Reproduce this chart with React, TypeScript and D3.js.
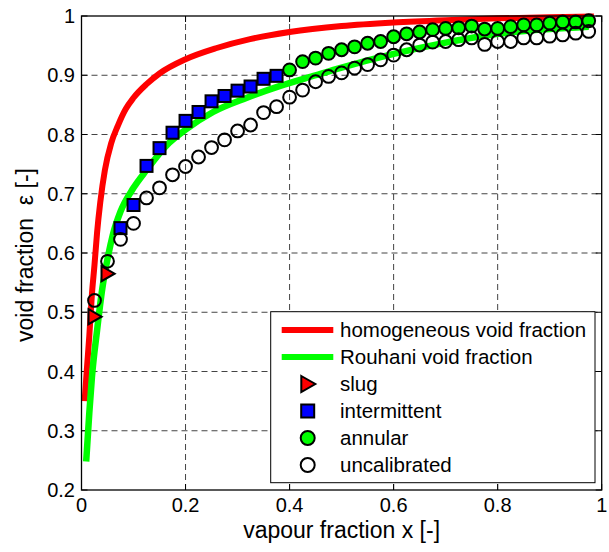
import React from "react";
import * as d3 from "d3";

// ---- data ----
const xTicks = [0, 0.2, 0.4, 0.6, 0.8, 1];
const yTicks = [0.2, 0.3, 0.4, 0.5, 0.6, 0.7, 0.8, 0.9, 1];
const xTickLabels = ["0", "0.2", "0.4", "0.6", "0.8", "1"];
const yTickLabels = ["0.2", "0.3", "0.4", "0.5", "0.6", "0.7", "0.8", "0.9", "1"];

const homogeneousX = [0.006, 0.01, 0.015, 0.02, 0.025, 0.03, 0.036, 0.045, 0.057, 0.07, 0.085, 0.1, 0.125, 0.15, 0.2, 0.26, 0.324, 0.4, 0.5, 0.6, 0.7, 0.8, 0.9, 0.985];
const homogeneousY = [0.35, 0.4, 0.46, 0.53, 0.58, 0.635, 0.685, 0.74, 0.785, 0.815, 0.843, 0.862, 0.885, 0.903, 0.927, 0.946, 0.961, 0.973, 0.983, 0.989, 0.993, 0.996, 0.998, 0.999];

const rouhaniX = [0.009, 0.015, 0.02, 0.03, 0.04, 0.05, 0.06, 0.075, 0.1, 0.125, 0.164, 0.2, 0.253, 0.318, 0.382, 0.45, 0.5, 0.6, 0.7, 0.8, 0.9, 0.975];
const rouhaniY = [0.248, 0.33, 0.39, 0.47, 0.54, 0.59, 0.63, 0.67, 0.71, 0.74, 0.782, 0.808, 0.838, 0.862, 0.882, 0.9, 0.913, 0.936, 0.955, 0.97, 0.978, 0.982];

const slugX = [0.025, 0.05];
const slugY = [0.4925, 0.565];

const intermittentX = [0.075, 0.1, 0.125, 0.15, 0.175, 0.2, 0.225, 0.25, 0.275, 0.3, 0.325, 0.35, 0.375];
const intermittentY = [0.642, 0.681, 0.747, 0.777, 0.803, 0.823, 0.838, 0.856, 0.865, 0.874, 0.881, 0.894, 0.899];

const annularX = [0.4, 0.425, 0.45, 0.475, 0.5, 0.525, 0.55, 0.575, 0.6, 0.625, 0.65, 0.675, 0.7, 0.725, 0.75, 0.775, 0.8, 0.825, 0.85, 0.875, 0.9, 0.925, 0.95, 0.975];
const annularY = [0.909, 0.923, 0.929, 0.937, 0.943, 0.948, 0.954, 0.957, 0.965, 0.97, 0.973, 0.977, 0.979, 0.98, 0.983, 0.978, 0.979, 0.982, 0.985, 0.985, 0.988, 0.99, 0.99, 0.992];

const uncalX = [0.025, 0.05, 0.075, 0.1, 0.125, 0.15, 0.175, 0.2, 0.225, 0.25, 0.275, 0.3, 0.325, 0.35, 0.375, 0.4, 0.425, 0.45, 0.475, 0.5, 0.525, 0.55, 0.575, 0.6, 0.625, 0.65, 0.675, 0.7, 0.725, 0.75, 0.775, 0.8, 0.825, 0.85, 0.875, 0.9, 0.925, 0.95, 0.975];
const uncalY = [0.52, 0.586, 0.623, 0.65, 0.693, 0.71, 0.732, 0.746, 0.762, 0.778, 0.791, 0.806, 0.816, 0.837, 0.847, 0.863, 0.875, 0.889, 0.898, 0.904, 0.912, 0.918, 0.926, 0.934, 0.943, 0.951, 0.956, 0.957, 0.96, 0.963, 0.952, 0.957, 0.957, 0.963, 0.963, 0.966, 0.968, 0.971, 0.974];

const legendLabels = ["homogeneous void fraction", "Rouhani void fraction", "slug", "intermittent", "annular", "uncalibrated"];

const FONT = "'Liberation Sans', Arial, Helvetica, sans-serif";

const zip = (xs: number[], ys: number[]) => xs.map((x, i) => [x, ys[i]] as [number, number]);

const triPath = (cx: number, cy: number, s: number) =>
  `M${cx - 0.8 * s},${cy - s}L${cx + 0.95 * s},${cy}L${cx - 0.8 * s},${cy + s}Z`;

export default function App() {
  const W = 609, H = 552;
  const L = 81.5, R = 601.7, T = 16, B = 490;
  const x = d3.scaleLinear().domain([0, 1]).range([L, R]);
  const y = d3.scaleLinear().domain([0.2, 1]).range([B, T]);
  const line = d3.line<[number, number]>().x(d => x(d[0])).y(d => y(d[1])).curve(d3.curveMonotoneX);

  const legX = 270.7, legY = 311.7, legW = 324.3, legH = 171;
  const rowY = (i: number) => 330 + i * 27;
  const mX = 307.7;
  const SQ = 12, CR = 6.4;

  return (
    <svg width={W} height={H} style={{ position: "absolute", left: 0, top: 0, background: "#fff" }} fontFamily={FONT}>
      <rect x={0} y={0} width={W} height={H} fill="#fff" />
      {/* grid */}
      <g stroke="#444" strokeWidth={1} strokeDasharray="6,4">
        {xTicks.slice(1, -1).map(t => (
          <line key={"gx" + t} x1={x(t)} x2={x(t)} y1={B} y2={T} />
        ))}
        {yTicks.slice(1, -1).map(t => (
          <line key={"gy" + t} x1={L} x2={R} y1={y(t)} y2={y(t)} />
        ))}
      </g>
      {/* ticks inside */}
      <g stroke="#000" strokeWidth={1}>
        {xTicks.map(t => (
          <g key={"tx" + t}>
            <line x1={x(t)} x2={x(t)} y1={B} y2={B - 6} />
            <line x1={x(t)} x2={x(t)} y1={T} y2={T + 6} />
          </g>
        ))}
        {yTicks.map(t => (
          <g key={"ty" + t}>
            <line x1={L} x2={L + 6} y1={y(t)} y2={y(t)} />
            <line x1={R} x2={R - 6} y1={y(t)} y2={y(t)} />
          </g>
        ))}
      </g>
      {/* lines */}
      <path d={line(zip(homogeneousX, homogeneousY)) || ""} fill="none" stroke="#ff0000" strokeWidth={6} />
      <path d={line(zip(rouhaniX, rouhaniY)) || ""} fill="none" stroke="#00ff00" strokeWidth={6.5} />
      {/* markers */}
      {zip(slugX, slugY).map((d, i) => (
        <path key={"s" + i} d={triPath(x(d[0]), y(d[1]), 7.5)} fill="#ff0000" stroke="#000" strokeWidth={2} strokeLinejoin="miter" />
      ))}
      {zip(intermittentX, intermittentY).map((d, i) => (
        <rect key={"q" + i} x={x(d[0]) - SQ / 2} y={y(d[1]) - SQ / 2} width={SQ} height={SQ} fill="#0000ff" stroke="#000" strokeWidth={2} />
      ))}
      {zip(annularX, annularY).map((d, i) => (
        <circle key={"a" + i} cx={x(d[0])} cy={y(d[1])} r={CR} fill="#00ff00" stroke="#000" strokeWidth={2} />
      ))}
      {zip(uncalX, uncalY).map((d, i) => (
        <circle key={"u" + i} cx={x(d[0])} cy={y(d[1])} r={CR} fill="none" stroke="#000" strokeWidth={2} />
      ))}
      {/* axes box */}
      <rect x={L} y={T} width={R - L} height={B - T} fill="none" stroke="#000" strokeWidth={1.3} />
      {/* tick labels */}
      <g fontSize={20} fill="#000">
        {xTicks.map((t, i) => (
          <text key={"lx" + t} x={x(t)} y={512} textAnchor="middle">{xTickLabels[i]}</text>
        ))}
        {yTicks.map((t, i) => (
          <text key={"ly" + t} x={75} y={y(t)} dy="0.36em" textAnchor="end">{yTickLabels[i]}</text>
        ))}
      </g>
      {/* axis titles */}
      <text x={(L + R) / 2} y={538} textAnchor="middle" fontSize={23}>vapour fraction x [-]</text>
      <text transform={`translate(33,${(T + B) / 2 + 2}) rotate(-90)`} textAnchor="middle" fontSize={23} xmlSpace="preserve">void fraction  ε [-]</text>
      {/* legend */}
      <rect x={legX} y={legY} width={legW} height={legH} fill="#fff" stroke="#000" strokeWidth={1} />
      <line x1={281.7} x2={333.3} y1={rowY(0)} y2={rowY(0)} stroke="#ff0000" strokeWidth={6} />
      <line x1={281.7} x2={333.3} y1={rowY(1)} y2={rowY(1)} stroke="#00ff00" strokeWidth={6} />
      <path d={triPath(mX, rowY(2), 8)} fill="#ff0000" stroke="#000" strokeWidth={2} />
      <rect x={mX - 6.5} y={rowY(3) - 6.5} width={13} height={13} fill="#0000ff" stroke="#000" strokeWidth={2} />
      <circle cx={mX} cy={rowY(4)} r={7} fill="#00ff00" stroke="#000" strokeWidth={2} />
      <circle cx={mX} cy={rowY(5)} r={7} fill="#fff" stroke="#000" strokeWidth={2} />
      <g fontSize={20.5} fill="#000">
        {legendLabels.map((s, i) => (
          <text key={"lg" + i} x={340} y={rowY(i)} dy="0.36em">{s}</text>
        ))}
      </g>
    </svg>
  );
}
